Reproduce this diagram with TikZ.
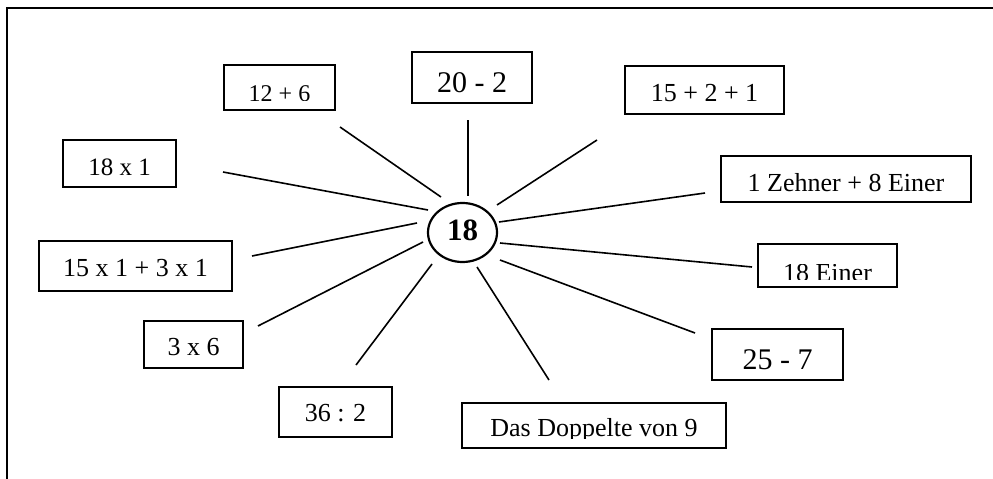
\documentclass[tikz,border=0pt]{standalone}
\usepackage{fontspec}
\setmainfont{Liberation Serif}
\usepackage{trimclip}
\usetikzlibrary{shapes.geometric}
\tikzset{
  box/.style={draw, line width=1.8pt, inner sep=0pt, text depth=0pt, rectangle},
  fs/.style={font=\fontsize{#1}{#1}\selectfont},
  spoke/.style={line width=1.6pt},
  hub/.style={ellipse, draw, line width=2.2pt, inner sep=0pt, text depth=0pt,
    minimum width=69pt, minimum height=59pt, font=\fontsize{31}{31}\selectfont\bfseries}
}
\begin{document}
\begin{tikzpicture}[x=1pt,y=-1pt]
\useasboundingbox (0,0) rectangle (993,479);
% frame
\coordinate (fbl) at (7,479);
\coordinate (ftl) at (7,8);
\coordinate (ftr) at (993,8);
\draw[line width=1.8pt] (fbl) -- (ftl) -- (ftr);
% hub
\node[hub, text height=16pt] (c) at (462.5,232.5) {18};
% boxes
\node[box, fs=24, minimum width=111pt, minimum height=45pt, text height=25pt] (b126) at (279.5,87.5) {\clipbox{0pt 2pt 0pt 0pt}{12 + 6}};
\node[box, fs=30, minimum width=120pt, minimum height=51pt, text height=29pt] (b202) at (472,77.5) {20 - 2};
\node[box, fs=26, minimum width=159pt, minimum height=48pt, text height=23pt] (b1521) at (704.5,90) {15 + 2 + 1};
\node[box, fs=26, minimum width=250pt, minimum height=46pt, text height=24pt] (bzeh) at (846,179) {1 Zehner + 8 Einer};
\node[box, fs=26, minimum width=139pt, minimum height=43pt, text height=28pt] (bein) at (827.5,265.5) {\clipbox{0pt 2.5pt 0pt 0pt}{18 Einer}};
\node[box, fs=30, minimum width=131pt, minimum height=51pt, text height=29pt] (b257) at (777.5,354.5) {25 - 7};
\node[box, fs=26, minimum width=264pt, minimum height=45pt, text height=21pt] (bdas) at (594,425.5) {\clipbox{0pt 0pt 0pt 0pt}{\raisebox{0pt}[\height][2pt]{Das Doppelte von 9}}};
\node[box, fs=26, minimum width=113pt, minimum height=50pt, text height=18pt] (b362) at (335.5,412) {36 : 2};
\node[box, fs=26, minimum width=99pt, minimum height=47pt, text height=21pt] (b3x6) at (193.5,344.5) {3 x 6};
\node[box, fs=26, minimum width=193pt, minimum height=50pt, text height=20pt] (b15x) at (135.5,266) {15 x 1 + 3 x 1};
\node[box, fs=25, minimum width=113pt, minimum height=47pt, text height=23pt] (b181) at (119.5,163.5) {18 x 1};
% spoke ends
\coordinate (o1) at (340,127);  \coordinate (i1) at (441,197);
\coordinate (o2) at (468,120);  \coordinate (i2) at (468,196);
\coordinate (o3) at (597,140);  \coordinate (i3) at (497,205);
\coordinate (o4) at (705,193);  \coordinate (i4) at (499,222);
\coordinate (o5) at (752,267);  \coordinate (i5) at (500,243);
\coordinate (o6) at (695,333);  \coordinate (i6) at (500,260);
\coordinate (o7) at (549,380);  \coordinate (i7) at (477,267);
\coordinate (o8) at (356,365);  \coordinate (i8) at (432,264);
\coordinate (o9) at (258,326);  \coordinate (i9) at (423,242);
\coordinate (o10) at (252,256); \coordinate (i10) at (417,223);
\coordinate (o11) at (223,172); \coordinate (i11) at (428,210);
\foreach \k in {1,...,11} {\draw[spoke] (o\k) -- (i\k);}
\end{tikzpicture}
\end{document}
